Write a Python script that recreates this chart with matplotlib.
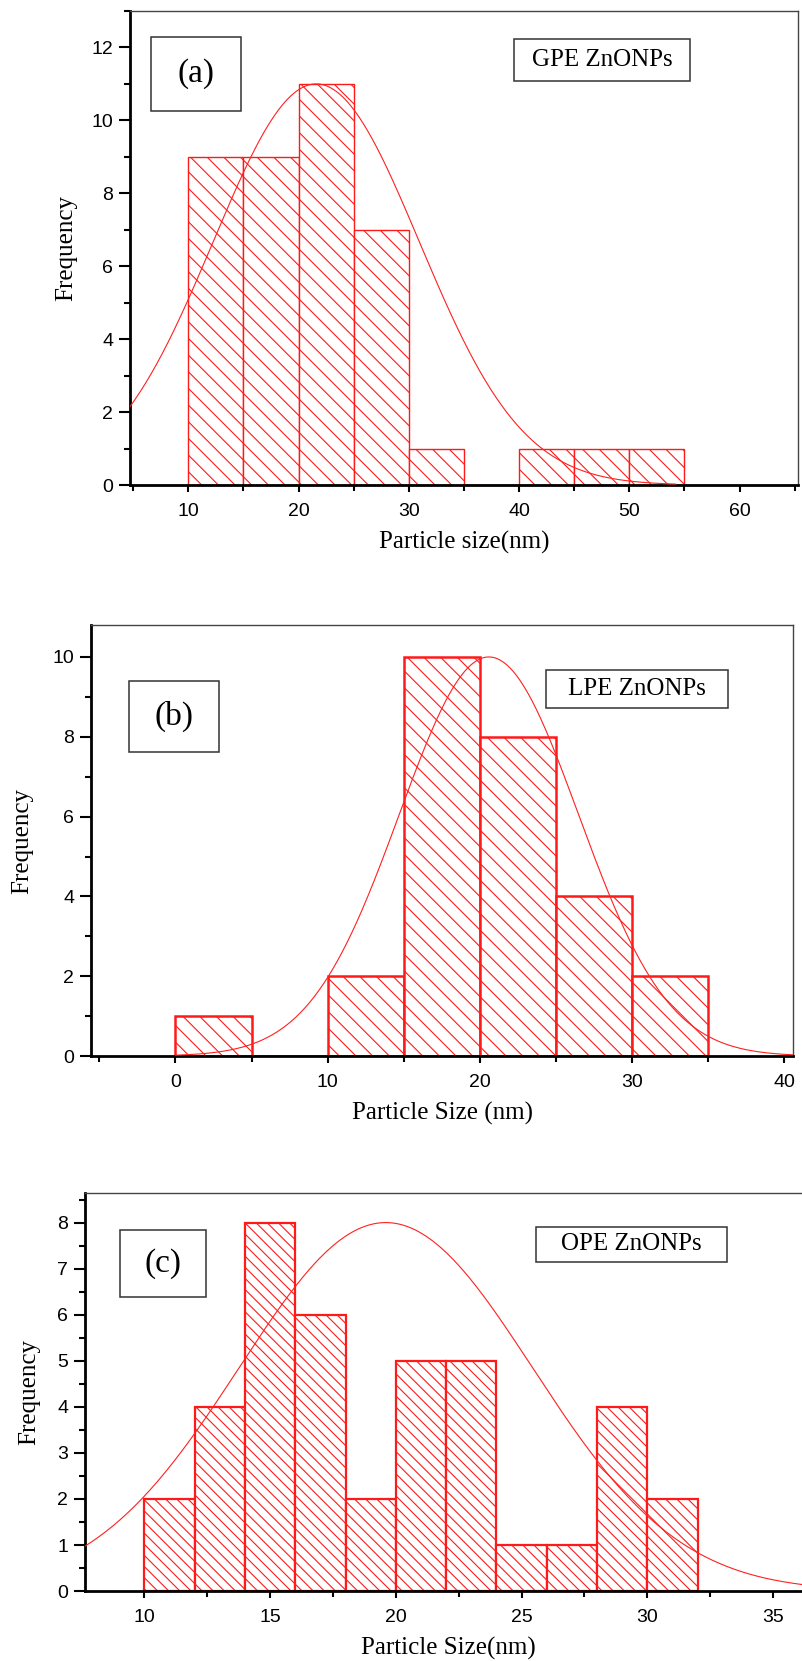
import numpy as np
import matplotlib.pyplot as plt
from matplotlib.patches import Rectangle
from matplotlib.ticker import MultipleLocator

# histogram counts (bin edges + counts) and fitted gaussian for each sample
gpe_edges = [10, 15, 20, 25, 30, 35, 40, 45, 50, 55]
gpe_counts = [9, 9, 11, 7, 1, 0, 1, 1, 1]
gpe_fit = (21.6, 9.35, 11.0)   # mean, sigma, peak height

lpe_edges = [0, 5, 10, 15, 20, 25, 30, 35]
lpe_counts = [1, 0, 2, 10, 8, 4, 2]
lpe_fit = (20.6, 5.88, 10.0)

ope_edges = [10, 12, 14, 16, 18, 20, 22, 24, 26, 28, 30, 32]
ope_counts = [2, 4, 8, 6, 2, 5, 5, 1, 1, 4, 2]
ope_fit = (19.6, 5.83, 8.0)

serif = ['Liberation Serif', 'DejaVu Serif']
sans = ['Liberation Sans', 'DejaVu Sans']
plt.rcParams['hatch.linewidth'] = 0.8


def gauss(x, mu, sd, h):
    return h * np.exp(-(x - mu) ** 2 / (2 * sd ** 2))


def panel(fig, rect, edges, counts, fit, fit_range, xlim, ylim, xmaj, xmin, ymaj, ymin,
          xlabel, tag, tag_box, name, name_box, edge_lw=1.2, hatch='\\\\', ylabelpad=8):
    ax = fig.add_axes(rect)
    edges = np.asarray(edges, dtype=float)
    ax.bar(edges[:-1], counts, width=np.diff(edges), align='edge',
           facecolor='white', edgecolor='#ff1a1a', linewidth=edge_lw, hatch=hatch, zorder=2)
    xs = np.linspace(fit_range[0], fit_range[1], 400)
    ax.plot(xs, gauss(xs, *fit), color='#ff2020', lw=0.8, zorder=3)
    ax.set_xlim(*xlim)
    ax.set_ylim(*ylim)
    ax.xaxis.set_major_locator(MultipleLocator(xmaj))
    ax.xaxis.set_minor_locator(MultipleLocator(xmin))
    ax.yaxis.set_major_locator(MultipleLocator(ymaj))
    ax.yaxis.set_minor_locator(MultipleLocator(ymin))
    ax.tick_params(which='both', direction='out', width=1.5, labelsize=14, top=False, right=False)
    ax.tick_params(axis='x', which='major', length=5, pad=8)
    ax.tick_params(axis='x', which='minor', length=4)
    ax.tick_params(axis='y', which='major', length=8, pad=4)
    ax.tick_params(axis='y', which='minor', length=4)
    for lab in ax.get_xticklabels() + ax.get_yticklabels():
        lab.set_family(sans)
    for s in ('left', 'bottom'):
        ax.spines[s].set_linewidth(2)
        ax.spines[s].set_color('black')
    for s in ('top', 'right'):
        ax.spines[s].set_linewidth(1)
        ax.spines[s].set_color('#444444')
    ax.set_xlabel(xlabel, family=serif, fontsize=18, labelpad=8)
    ax.set_ylabel('Frequency', family=serif, fontsize=18, labelpad=ylabelpad)

    for box, txt, size in ((tag_box, tag, 24), (name_box, name, 18)):
        x0, x1, y0, y1 = box
        ax.add_patch(Rectangle((x0, y0), x1 - x0, y1 - y0, transform=ax.transAxes,
                               facecolor='white', edgecolor='#333333', lw=1.1, zorder=4))
        ax.text((x0 + x1) / 2, (y0 + y1) / 2, txt, transform=ax.transAxes, family=serif,
                fontsize=size, ha='center', va='center', zorder=5)
    return ax


fig = plt.figure(figsize=(8.02, 16.61), dpi=100)

panel(fig, [0.162, 0.708, 0.833, 0.2854], gpe_edges, gpe_counts, gpe_fit, (4.0, 54.2),
      (4.7, 65.3), (0, 13.0), 10, 5, 2, 1, 'Particle size(nm)',
      '(a)', (0.031, 0.166, 0.789, 0.945), 'GPE ZnONPs', (0.575, 0.838, 0.852, 0.941),
      edge_lw=1.0, ylabelpad=10)

panel(fig, [0.1135, 0.3642, 0.8755, 0.2595], lpe_edges, lpe_counts, lpe_fit, (0.0, 41.0),
      (-5.55, 40.6), (0, 10.8), 10, 5, 2, 1, 'Particle Size (nm)',
      '(b)', (0.054, 0.182, 0.705, 0.870), 'LPE ZnONPs', (0.648, 0.907, 0.807, 0.896),
      edge_lw=1.8, ylabelpad=14)

panel(fig, [0.106, 0.0421, 0.905, 0.2396], ope_edges, ope_counts, ope_fit, (7.0, 37.0),
      (7.64, 36.5), (0, 8.64), 5, 2.5, 1, 0.5, 'Particle Size(nm)',
      '(c)', (0.048, 0.167, 0.739, 0.907), 'OPE ZnONPs', (0.621, 0.884, 0.827, 0.915),
      edge_lw=1.6, hatch='\\\\\\', ylabelpad=12)

fig.savefig('out.png', dpi=100)
plt.close(fig)
